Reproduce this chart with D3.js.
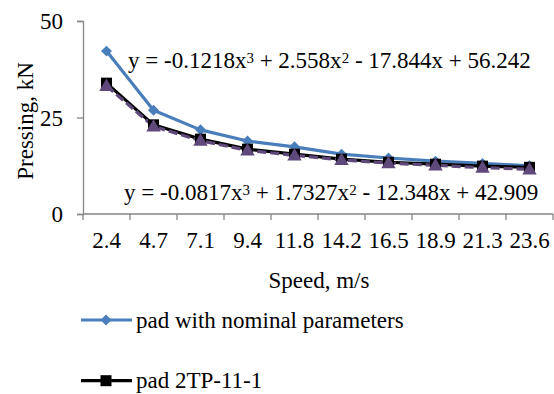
<!DOCTYPE html>
<html><head><meta charset="utf-8">
<script src="https://cdn.jsdelivr.net/npm/d3@7"></script>
</head><body style="margin:0;background:#fff"><svg id="c" width="554" height="394" style="display:block;font-family:'Liberation Serif',serif"></svg>
<script>
const categories = ["2.4","4.7","7.1","9.4","11.8","14.2","16.5","18.9","21.3","23.6"];
const nominal = [42.2,26.9,21.8,18.9,17.4,15.5,14.5,13.7,13.1,12.5];
const pad2TP = [33.9,23.1,19.4,16.8,15.5,14.2,13.4,12.9,12.4,12.1];
const pad3 = [33.2,22.7,19.0,16.5,15.2,14.0,13.2,12.6,12.0,11.6];
const yTicks = [0,25,50];
const eq1 = ["y = -0.1218x","3"," + 2.558x","2"," - 17.844x + 56.242"];
const eq2 = ["y = -0.0817x","3"," + 1.7327x","2"," - 12.348x + 42.909"];
const legendNames = ["pad with nominal parameters","pad 2TP-11-1"];

const FONT = "'Liberation Serif', serif";
const FS = "23px";
const svg = d3.select("#c");
const x = d3.scaleBand().domain(categories).range([83,553]);
const y = d3.scaleLinear().domain([0,50]).range([214,21]);
const axisCol = "#868686";

function txt(sel){ return sel.style("font-family",FONT).attr("fill","#000"); }

// axes
const ya = svg.append("g").attr("transform","translate(83,0)")
  .call(d3.axisLeft(y).tickValues(yTicks).tickSize(6).tickPadding(4));
ya.attr("font-family",null).attr("font-size",null);
ya.select(".domain").attr("stroke",axisCol).attr("stroke-width",1.3);
ya.selectAll(".tick line").attr("stroke",axisCol).attr("stroke-width",1.3);
txt(ya.selectAll(".tick text")).style("font-size",FS).attr("dy","0.33em").attr("x",-20);

const xa = svg.append("g").attr("transform","translate(0,214)")
  .call(d3.axisBottom(x).tickSize(0).tickPadding(0));
xa.attr("font-family",null).attr("font-size",null);
xa.select(".domain").attr("stroke",axisCol).attr("stroke-width",1.3).attr("d","M83,0H553");
txt(xa.selectAll(".tick text")).style("font-size",FS).attr("y",34).attr("dy",0);
svg.append("g").selectAll("line").data(d3.range(categories.length+1)).join("line")
  .attr("x1",i=>83+x.step()*i).attr("x2",i=>83+x.step()*i)
  .attr("y1",214).attr("y2",220).attr("stroke",axisCol).attr("stroke-width",1.3);

// titles
txt(svg.append("text")).attr("x",319).attr("y",288).attr("text-anchor","middle").style("font-size",FS).text("Speed, m/s");
txt(svg.append("text")).attr("transform","translate(33,121) rotate(-90)").attr("text-anchor","middle").style("font-size",FS).text("Pressing, kN");

const cx = d => x(d)+x.bandwidth()/2;
const line = d3.line().x((d,i)=>cx(categories[i])).y(d=>y(d));

// series
svg.append("path").datum(nominal).attr("d",line).attr("fill","none").attr("stroke","#4a7ebb").attr("stroke-width",3.2).attr("stroke-linejoin","round");
svg.append("path").datum(pad2TP).attr("d",line).attr("fill","none").attr("stroke","#000").attr("stroke-width",3.2).attr("stroke-linejoin","round");
svg.append("path").datum(pad3).attr("d",line).attr("fill","none").attr("stroke","#5f497a").attr("stroke-width",3.2).attr("stroke-dasharray","9,4");

svg.append("g").selectAll("path").data(nominal).join("path")
  .attr("d",d3.symbol().type(d3.symbolSquare).size(60))
  .attr("transform",(d,i)=>`translate(${cx(categories[i])},${y(d)}) rotate(45)`).attr("fill","#4a7ebb");
svg.append("g").selectAll("rect").data(pad2TP).join("rect")
  .attr("x",(d,i)=>cx(categories[i])-5.5).attr("y",d=>y(d)-5.5).attr("width",11).attr("height",11).attr("fill","#000");
svg.append("g").selectAll("path").data(pad3).join("path")
  .attr("d",d3.symbol().type(d3.symbolTriangle).size(90))
  .attr("transform",(d,i)=>`translate(${cx(categories[i])},${y(d)+1})`).attr("fill","#5f497a");

// equations
function eq(parts, xx, yy){
  const t = txt(svg.append("text")).attr("x",xx).attr("y",yy).style("font-size",FS).style("white-space","pre");
  parts.forEach((p,i)=>{
    if(i%2===1) t.append("tspan").style("font-size","15px").attr("dy",-5).text(p);
    else t.append("tspan").attr("dy", i===0?0:5).text(p);
  });
}
eq(eq1,128,67.5);
eq(eq2,124,199.5);

// legend
const leg = [{c:"#4a7ebb",m:"d"},{c:"#000",m:"s"}];
leg.forEach((l,i)=>{
  const ly = 320 + i*60.7;
  svg.append("line").attr("x1",81).attr("x2",132).attr("y1",ly).attr("y2",ly).attr("stroke",l.c).attr("stroke-width",3.2);
  if(l.m==="d") svg.append("path").attr("d",d3.symbol().type(d3.symbolSquare).size(60)).attr("transform",`translate(106,${ly}) rotate(45)`).attr("fill",l.c);
  else svg.append("rect").attr("x",100.5).attr("y",ly-5.5).attr("width",11).attr("height",11).attr("fill",l.c);
  txt(svg.append("text")).attr("x",136).attr("y",ly+7.5).style("font-size",FS).text(legendNames[i]);
});
</script></body></html>
